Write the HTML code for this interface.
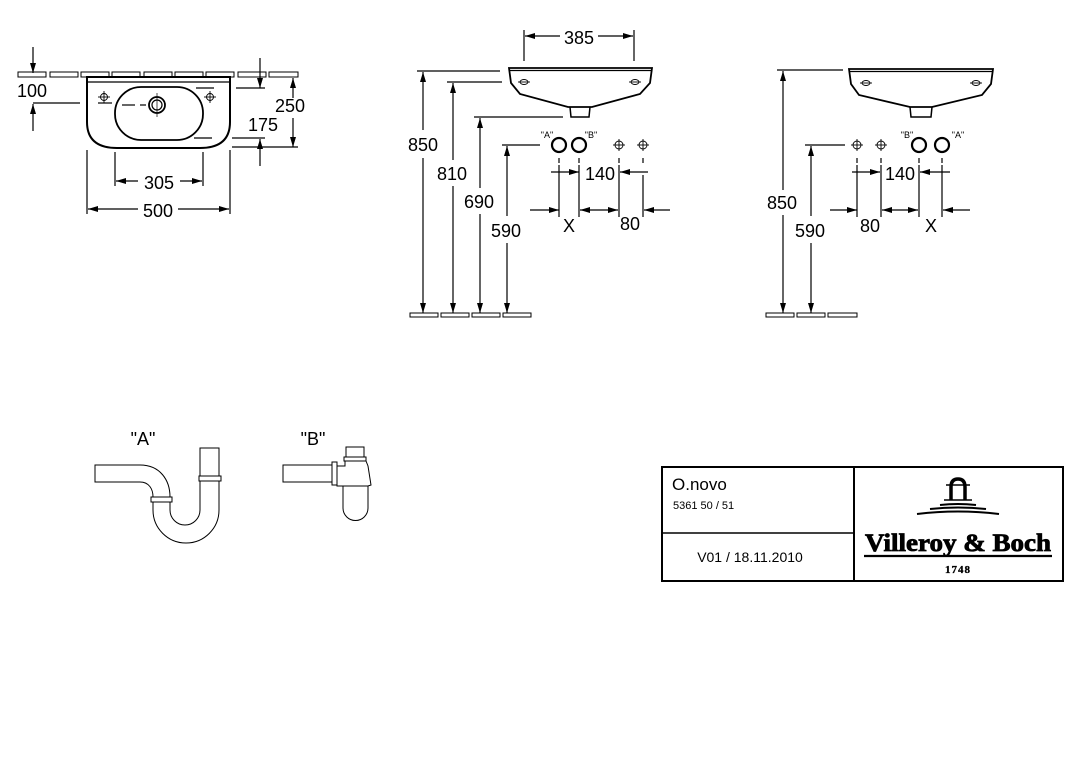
<!DOCTYPE html>
<html><head><meta charset="utf-8"><style>
html,body{margin:0;padding:0;background:#fff;}
svg{display:block;}
text{font-family:"Liberation Sans",sans-serif;fill:#000;}
</style></head><body>
<svg width="1071" height="772" viewBox="0 0 1071 772" xmlns="http://www.w3.org/2000/svg">
<defs>
<marker id="ar" viewBox="0 0 10 6" refX="10" refY="3" markerWidth="11" markerHeight="6" orient="auto" markerUnits="userSpaceOnUse">
<path d="M0,0 L10,3 L0,6 Z" fill="#000"/></marker>
</defs>
<g fill="none" stroke="#000" stroke-width="1.2">
<g stroke-width="1">
<rect x="18" y="72" width="28" height="5"/><rect x="50" y="72" width="28" height="5"/><rect x="81" y="72" width="28" height="5"/><rect x="112" y="72" width="28" height="5"/><rect x="144" y="72" width="28" height="5"/><rect x="175" y="72" width="28" height="5"/><rect x="206" y="72" width="28" height="5"/><rect x="238" y="72" width="28" height="5"/><rect x="269" y="72" width="29" height="5"/>
</g>
<path d="M87,77 L230,77 L230,122 Q230,148 200,148 L117,148 Q87,148 87,122 Z" fill="#fff" stroke-width="2"/>
<line x1="88" y1="82" x2="229" y2="82"/>
<rect x="115" y="87" width="88" height="53" rx="26" ry="26" stroke-width="1.8"/>
<circle cx="157" cy="105" r="8" stroke-width="1.8"/><circle cx="157" cy="105" r="5"/>
<line x1="157" y1="93" x2="157" y2="117" stroke-width="0.7"/>
<line x1="122" y1="105" x2="135" y2="105"/><line x1="140" y1="105" x2="146" y2="105"/>
<line x1="196" y1="88" x2="214" y2="88"/><line x1="194" y1="138" x2="212" y2="138"/>
<line x1="98" y1="103" x2="112" y2="103"/>
<g stroke-width="0.9"><circle cx="104" cy="97" r="3.5"/><line x1="98" y1="97" x2="110" y2="97"/><line x1="104" y1="91" x2="104" y2="103"/>
<circle cx="210" cy="97" r="3.5"/><line x1="204" y1="97" x2="216" y2="97"/><line x1="210" y1="91" x2="210" y2="103"/></g>
<line x1="33" y1="47" x2="33" y2="73" marker-end="url(#ar)"/>
<line x1="33" y1="131" x2="33" y2="104" marker-end="url(#ar)"/>
<line x1="33" y1="103" x2="80" y2="103"/>
<line x1="293" y1="98" x2="293" y2="78" marker-end="url(#ar)"/>
<line x1="293" y1="118" x2="293" y2="147" marker-end="url(#ar)"/>
<line x1="232" y1="147" x2="298" y2="147"/>
<line x1="260" y1="58" x2="260" y2="88" marker-end="url(#ar)"/>
<line x1="236" y1="88" x2="265" y2="88"/>
<line x1="260" y1="166" x2="260" y2="139" marker-end="url(#ar)"/>
<line x1="232" y1="138" x2="265" y2="138"/>
<line x1="115" y1="152" x2="115" y2="186"/><line x1="203" y1="152" x2="203" y2="186"/>
<line x1="138" y1="181" x2="116" y2="181" marker-end="url(#ar)"/><line x1="180" y1="181" x2="202" y2="181" marker-end="url(#ar)"/>
<line x1="87" y1="150" x2="87" y2="214"/><line x1="230" y1="150" x2="230" y2="214"/>
<line x1="138" y1="209" x2="88" y2="209" marker-end="url(#ar)"/><line x1="178" y1="209" x2="229" y2="209" marker-end="url(#ar)"/>

<line x1="524" y1="30" x2="524" y2="61"/><line x1="634" y1="30" x2="634" y2="61"/>
<line x1="560" y1="36" x2="525" y2="36" marker-end="url(#ar)"/><line x1="598" y1="36" x2="633" y2="36" marker-end="url(#ar)"/>
<path d="M509,68 L652,68 L650,83 L640,94 L592,107 L568,107 L520,94 L511,83 Z" stroke-width="1.8"/>
<line x1="509" y1="70.5" x2="651" y2="70.5"/>
<path d="M570,107 L571,117 L589,117 L590,107" stroke-width="1.5"/>
<g stroke-width="0.9"><ellipse cx="524" cy="82" rx="4" ry="2.5"/><line x1="518" y1="82" x2="530" y2="82"/><ellipse cx="635" cy="82" rx="4" ry="2.5"/><line x1="629" y1="82" x2="641" y2="82"/></g>
<line x1="417" y1="71" x2="500" y2="71"/>
<line x1="423" y1="130" x2="423" y2="72" marker-end="url(#ar)"/><line x1="423" y1="158" x2="423" y2="313" marker-end="url(#ar)"/>
<line x1="447" y1="82" x2="502" y2="82"/>
<line x1="453" y1="160" x2="453" y2="83" marker-end="url(#ar)"/><line x1="453" y1="186" x2="453" y2="313" marker-end="url(#ar)"/>
<line x1="474" y1="117" x2="563" y2="117"/>
<line x1="480" y1="188" x2="480" y2="118" marker-end="url(#ar)"/><line x1="480" y1="214" x2="480" y2="313" marker-end="url(#ar)"/>
<line x1="502" y1="145" x2="540" y2="145"/>
<line x1="507" y1="216" x2="507" y2="146" marker-end="url(#ar)"/><line x1="507" y1="243" x2="507" y2="313" marker-end="url(#ar)"/>
<g stroke-width="1"><rect x="410" y="313" width="28" height="4"/><rect x="441" y="313" width="28" height="4"/><rect x="472" y="313" width="28" height="4"/><rect x="503" y="313" width="28" height="4"/></g>
<circle cx="559" cy="145" r="7" stroke-width="2.2"/><circle cx="579" cy="145" r="7" stroke-width="2.2"/>
<g stroke-width="0.9"><circle cx="619" cy="145" r="4"/><line x1="613" y1="145" x2="625" y2="145"/><line x1="619" y1="139" x2="619" y2="151"/>
<circle cx="643" cy="145" r="4"/><line x1="637" y1="145" x2="649" y2="145"/><line x1="643" y1="139" x2="643" y2="151"/></g>
<line x1="559" y1="158" x2="559" y2="163"/><line x1="579" y1="158" x2="579" y2="163"/><line x1="619" y1="158" x2="619" y2="163"/><line x1="643" y1="158" x2="643" y2="163"/>
<line x1="559" y1="165" x2="559" y2="217"/><line x1="579" y1="165" x2="579" y2="217"/><line x1="619" y1="165" x2="619" y2="217"/><line x1="643" y1="175" x2="643" y2="217"/>
<line x1="551" y1="172" x2="579" y2="172" marker-end="url(#ar)"/><line x1="648" y1="172" x2="620" y2="172" marker-end="url(#ar)"/>
<line x1="530" y1="210" x2="559" y2="210" marker-end="url(#ar)"/>
<line x1="599" y1="210" x2="580" y2="210" marker-end="url(#ar)"/><line x1="599" y1="210" x2="618" y2="210" marker-end="url(#ar)"/>
<line x1="670" y1="210" x2="644" y2="210" marker-end="url(#ar)"/>

<path d="M849,69 L993,69 L991,84 L982,95 L932,107 L910,107 L859,95 L851,84 Z" stroke-width="1.8"/>
<line x1="849" y1="71.5" x2="992" y2="71.5"/>
<path d="M910,107 L911,117 L931,117 L932,107" stroke-width="1.5"/>
<g stroke-width="0.9"><ellipse cx="866" cy="83" rx="4" ry="2.5"/><line x1="860" y1="83" x2="872" y2="83"/><ellipse cx="976" cy="83" rx="4" ry="2.5"/><line x1="970" y1="83" x2="982" y2="83"/></g>
<line x1="777" y1="70" x2="843" y2="70"/>
<line x1="783" y1="190" x2="783" y2="71" marker-end="url(#ar)"/><line x1="783" y1="215" x2="783" y2="313" marker-end="url(#ar)"/>
<line x1="805" y1="145" x2="845" y2="145"/>
<line x1="811" y1="216" x2="811" y2="146" marker-end="url(#ar)"/><line x1="811" y1="243" x2="811" y2="313" marker-end="url(#ar)"/>
<g stroke-width="1"><rect x="766" y="313" width="28" height="4"/><rect x="797" y="313" width="28" height="4"/><rect x="828" y="313" width="29" height="4"/></g>
<g stroke-width="0.9"><circle cx="857" cy="145" r="4"/><line x1="851" y1="145" x2="863" y2="145"/><line x1="857" y1="139" x2="857" y2="151"/>
<circle cx="881" cy="145" r="4"/><line x1="875" y1="145" x2="887" y2="145"/><line x1="881" y1="139" x2="881" y2="151"/></g>
<circle cx="919" cy="145" r="7" stroke-width="2.2"/><circle cx="942" cy="145" r="7" stroke-width="2.2"/>
<line x1="857" y1="158" x2="857" y2="163"/><line x1="881" y1="158" x2="881" y2="163"/><line x1="919" y1="158" x2="919" y2="163"/><line x1="942" y1="158" x2="942" y2="163"/>
<line x1="857" y1="165" x2="857" y2="217"/><line x1="881" y1="165" x2="881" y2="217"/><line x1="919" y1="165" x2="919" y2="217"/><line x1="942" y1="165" x2="942" y2="217"/>
<line x1="852" y1="172" x2="880" y2="172" marker-end="url(#ar)"/><line x1="950" y1="172" x2="920" y2="172" marker-end="url(#ar)"/>
<line x1="830" y1="210" x2="857" y2="210" marker-end="url(#ar)"/>
<line x1="900" y1="210" x2="882" y2="210" marker-end="url(#ar)"/><line x1="900" y1="210" x2="918" y2="210" marker-end="url(#ar)"/>
<line x1="970" y1="210" x2="943" y2="210" marker-end="url(#ar)"/>

<g stroke-width="1">
<path d="M140,465 L95,465 L95,482 L140,482 C149,482 153,489 153,497"/>
<path d="M140,465 C160,465 170,480 170,497"/>
<rect x="151" y="497" width="21" height="5"/>
<path d="M153,502 L153,510 A33,33 0 0 0 219,510 L219,481"/>
<path d="M170,502 L170,510 A15,15 0 0 0 200,510 L200,481"/>
<rect x="199" y="476" width="22" height="5"/>
<path d="M200,476 L200,448 L219,448 L219,476"/>
<rect x="283" y="465" width="49" height="17"/>
<rect x="332" y="462" width="5" height="23"/>
<path d="M337,466 L337,486 L343,486 M337,466 L345,466 L345,461 L366,461 L368,466 L371,485 L368,486 L343,486"/>
<rect x="344" y="457" width="22" height="4"/>
<rect x="346" y="447" width="18" height="10"/>
<path d="M343,486 L343,508 A12.5,12.5 0 0 0 368,508 L368,486"/>
</g>

<rect x="662" y="467" width="401" height="114" stroke-width="2"/>
<line x1="854" y1="467" x2="854" y2="581" stroke-width="2"/>
<line x1="662" y1="533" x2="854" y2="533" stroke-width="1.5"/>
<path d="M951,500 L951,487 Q951,479 958,479 Q965,479 965,487 L965,500" stroke-width="3.5"/>
<line x1="946" y1="485" x2="970" y2="485" stroke-width="1.5"/>
<line x1="944" y1="500" x2="972" y2="500" stroke-width="1.5"/>
<path d="M940,505 Q958,503 976,505" stroke-width="2"/>
<path d="M930,509 Q958,506 986,509" stroke-width="2"/>
<path d="M917,514 Q958,509 999,514" stroke-width="2"/>
<line x1="864" y1="556" x2="1052" y2="556" stroke-width="2.2"/>
</g>
<g font-size="18">
<text x="17" y="97">100</text>
<text x="275" y="112">250</text>
<text x="248" y="131">175</text>
<text x="159" y="189" text-anchor="middle">305</text>
<text x="158" y="217" text-anchor="middle">500</text>
<text x="579" y="44" text-anchor="middle">385</text>
<text x="408" y="151">850</text>
<text x="437" y="180">810</text>
<text x="464" y="208">690</text>
<text x="491" y="237">590</text>
<text x="600" y="180" text-anchor="middle">140</text>
<text x="569" y="232" text-anchor="middle">X</text>
<text x="630" y="230" text-anchor="middle">80</text>
<text x="767" y="209">850</text>
<text x="795" y="237">590</text>
<text x="900" y="180" text-anchor="middle">140</text>
<text x="870" y="232" text-anchor="middle">80</text>
<text x="931" y="232" text-anchor="middle">X</text>
<text x="143" y="445" text-anchor="middle">"A"</text>
<text x="313" y="445" text-anchor="middle">"B"</text>
</g>
<g font-size="9">
<text x="547" y="138" text-anchor="middle">"A"</text>
<text x="591" y="138" text-anchor="middle">"B"</text>
<text x="907" y="138" text-anchor="middle">"B"</text>
<text x="958" y="138" text-anchor="middle">"A"</text>
</g>
<text x="672" y="490" font-size="17">O.novo</text>
<text x="673" y="509" font-size="11">5361 50 / 51</text>
<text x="750" y="562" font-size="14" text-anchor="middle">V01 / 18.11.2010</text>
<text x="958" y="551" font-size="25" font-weight="bold" text-anchor="middle" style="font-family:'Liberation Serif',serif;stroke:#000;stroke-width:0.8" textLength="186" lengthAdjust="spacingAndGlyphs">Villeroy &amp; Boch</text>
<text x="958" y="573" font-size="11" font-weight="bold" text-anchor="middle" style="font-family:'Liberation Serif',serif;letter-spacing:1px;stroke:#000;stroke-width:0.3">1748</text>
</svg>
</body></html>
